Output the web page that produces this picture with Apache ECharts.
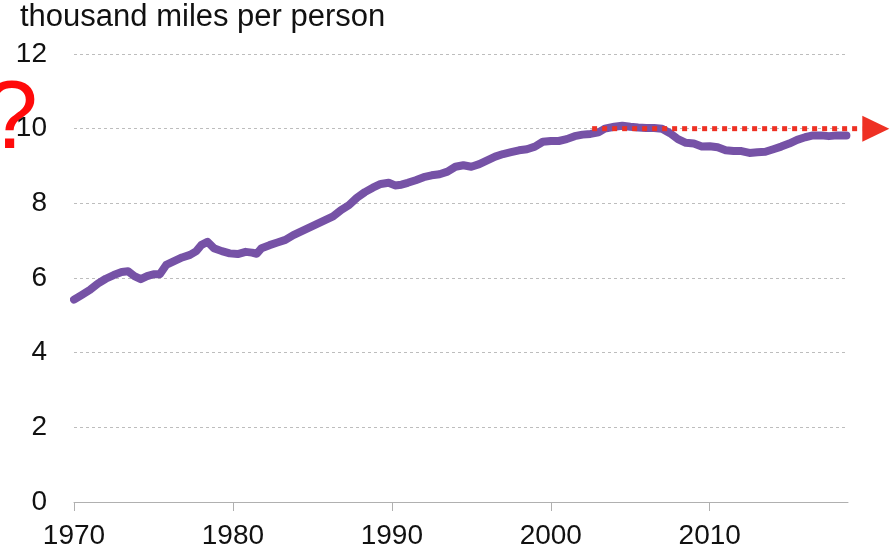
<!DOCTYPE html>
<html>
<head>
<meta charset="utf-8">
<script src="https://cdn.jsdelivr.net/npm/echarts@6/dist/echarts.min.js"></script>
<style>
  html, body { margin: 0; padding: 0; background: #fff; }
  #main { width: 894px; height: 552px; }
</style>
</head>
<body>
<div id="main"></div>
<script>
// miles travelled per person, thousands
var years = [
  1970.0, 1970.5, 1971.0, 1971.5, 1972.0, 1972.5, 1973.0, 1973.4, 1973.8, 1974.2,
  1974.6, 1975.0, 1975.4, 1975.8, 1976.3, 1976.8, 1977.3, 1977.7, 1978.0, 1978.4,
  1978.8, 1979.3, 1979.8, 1980.3, 1980.8, 1981.2, 1981.5, 1981.8, 1982.3, 1982.8,
  1983.3, 1983.8, 1984.3, 1984.8, 1985.3, 1985.8, 1986.3, 1986.8, 1987.3, 1987.8,
  1988.3, 1988.8, 1989.3, 1989.8, 1990.2, 1990.6, 1991.0, 1991.5, 1992.0, 1992.5,
  1993.0, 1993.5, 1994.0, 1994.5, 1995.0, 1995.5, 1996.0, 1996.5, 1997.0, 1997.5,
  1998.0, 1998.5, 1999.0, 1999.5, 2000.0, 2000.5, 2001.0, 2001.5, 2002.0, 2002.5,
  2003.0, 2003.4, 2004.0, 2004.5, 2005.0, 2005.5, 2006.0, 2006.5, 2007.0, 2007.5,
  2008.0, 2008.5, 2009.0, 2009.5, 2010.0, 2010.5, 2011.0, 2011.5, 2012.0, 2012.5,
  2013.0, 2013.5, 2014.0, 2014.5, 2015.0, 2015.5, 2016.0, 2016.5, 2017.0, 2017.5,
  2018.0, 2018.6
];
var miles = [
  5.42, 5.55, 5.68, 5.85, 5.98, 6.08, 6.16, 6.18, 6.05, 5.97,
  6.05, 6.10, 6.10, 6.35, 6.45, 6.55, 6.62, 6.72, 6.88, 6.97,
  6.80, 6.72, 6.66, 6.64, 6.70, 6.68, 6.65, 6.80, 6.88, 6.95,
  7.02, 7.15, 7.25, 7.35, 7.45, 7.55, 7.65, 7.82, 7.95, 8.15,
  8.30, 8.42, 8.52, 8.55, 8.48, 8.50, 8.55, 8.62, 8.70, 8.75,
  8.78, 8.85, 8.98, 9.02, 8.98, 9.05, 9.15, 9.25, 9.32, 9.37,
  9.42, 9.45, 9.52, 9.65, 9.67, 9.67, 9.72, 9.80, 9.84, 9.86,
  9.90, 10.00, 10.05, 10.08, 10.05, 10.03, 10.02, 10.02, 10.00, 9.88,
  9.72, 9.62, 9.60, 9.52, 9.53, 9.50, 9.42, 9.40, 9.40, 9.35,
  9.37, 9.38, 9.45, 9.52, 9.60, 9.70, 9.77, 9.82, 9.82, 9.80,
  9.82, 9.82
];
var xTicks = [1970, 1980, 1990, 2000, 2010];

// red "flat from here on" arrow
var arrowLevel = 10;
var arrowStart = 2002.6;
var arrowLineEnd = 2019.6;
var arrowTip = 2021.3;

var font = 'Liberation Sans, Arial, sans-serif';

var chart = echarts.init(document.getElementById('main'));

var points = years.map(function (y, i) { return [y, miles[i]]; });

var option = {
  animation: false,
  grid: { left: 74, right: 46, top: 54, bottom: 50 },
  xAxis: {
    type: 'value',
    min: 1970,
    max: 2018.7,
    interval: 10,
    axisLine: { show: true, lineStyle: { color: '#b0b0b0', width: 1 } },
    axisTick: { show: true, length: 9, customValues: xTicks, lineStyle: { color: '#b0b0b0' } },
    axisLabel: {
      customValues: xTicks,
      formatter: function (v) { return String(v); },
      color: '#111',
      fontFamily: font,
      fontSize: 28,
      margin: 20
    },
    splitLine: { show: false }
  },
  yAxis: {
    type: 'value',
    min: 0,
    max: 12,
    interval: 2,
    axisLine: { show: false },
    axisTick: { show: false },
    axisLabel: { color: '#111', fontFamily: font, fontSize: 28, margin: 27 },
    splitLine: { lineStyle: { color: '#bdbdbd', type: [3, 3], width: 1 } }
  },
  series: [{
    type: 'line',
    data: points,
    symbol: 'none',
    lineStyle: { color: '#7652a6', width: 8, cap: 'round', join: 'round' },
    z: 3
  }],
  graphic: [{
    id: 'title',
    type: 'text',
    left: 20,
    top: 2,
    style: { text: 'thousand miles per person', fill: '#111', font: '31px ' + font }
  }, {
    id: 'question',
    type: 'text',
    x: 38,
    y: 170,
    style: {
      text: '?', fill: '#ff0a0a', font: '96px ' + font,
      align: 'right', verticalAlign: 'bottom'
    }
  }]
};

chart.setOption(option);

// arrow placed through the axis scales
var a0 = chart.convertToPixel({ gridIndex: 0 }, [arrowStart, arrowLevel]);
var a1 = chart.convertToPixel({ gridIndex: 0 }, [arrowLineEnd, arrowLevel]);
var a2 = chart.convertToPixel({ gridIndex: 0 }, [arrowTip, arrowLevel]);
chart.setOption({
  graphic: [{
    id: 'arrowLine',
    type: 'line',
    shape: { x1: a0[0], y1: a0[1], x2: a1[0], y2: a1[1] },
    style: { stroke: '#ee3124', lineWidth: 5, lineDash: [5, 5] },
    z: 10
  }, {
    id: 'arrowHead',
    type: 'polygon',
    shape: { points: [[a1[0], a1[1] - 13], [a2[0], a2[1]], [a1[0], a1[1] + 13]] },
    style: { fill: '#ee3124' },
    z: 10
  }]
});
</script>
</body>
</html>
